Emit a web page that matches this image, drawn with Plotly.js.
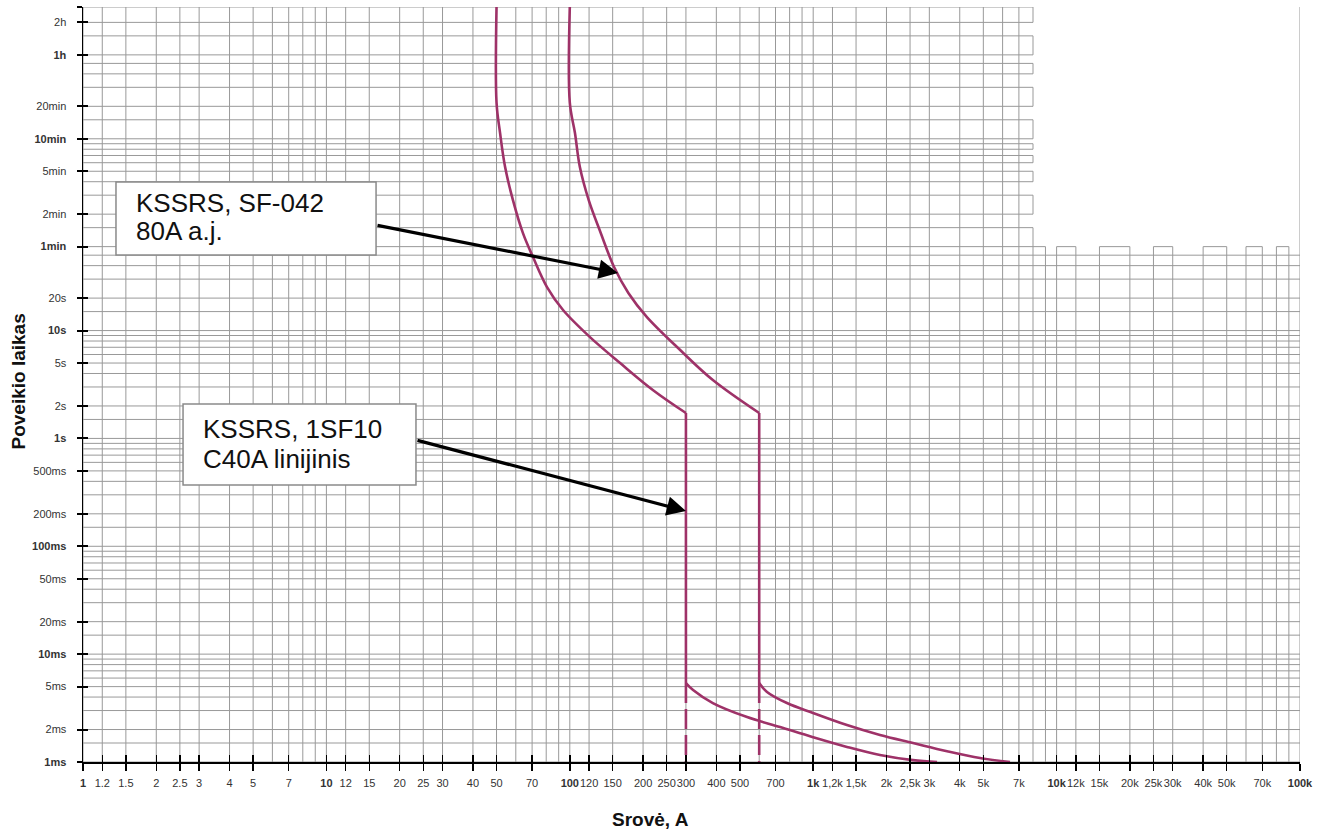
<!DOCTYPE html>
<html>
<head>
<meta charset="utf-8">
<script src="https://cdn.plot.ly/plotly-3.0.1.min.js"></script>
<style>html,body{margin:0;padding:0;background:#fff;}#chart{width:1327px;height:829px;}</style>
</head>
<body>
<div id="chart"></div>
<script>
// ---------- data ----------
// Current (A) ticks and labels
const xTickVals = [1,1.2,1.5,2,2.5,3,4,5,7,10,12,15,20,25,30,40,50,70,100,120,150,200,250,300,400,500,700,1000,1200,1500,2000,2500,3000,4000,5000,7000,10000,12000,15000,20000,25000,30000,40000,50000,70000,100000];
const xTickText = ['<b>1</b>','1.2','1.5','2','2.5','3','4','5','7','<b>10</b>','12','15','20','25','30','40','50','70','<b>100</b>','120','150','200','250','300','400','500','700','<b>1k</b>','1,2k','1,5k','2k','2,5k','3k','4k','5k','7k','<b>10k</b>','12k','15k','20k','25k','30k','40k','50k','70k','<b>100k</b>'];
// Time (s) ticks and labels
const yTickVals = [0.001,0.002,0.005,0.01,0.02,0.05,0.1,0.2,0.5,1,2,5,10,20,60,120,300,600,1200,3600,7200,10000];
const yTickText = ['<b>1ms</b>','2ms','5ms','<b>10ms</b>','20ms','50ms','<b>100ms</b>','200ms','500ms','<b>1s</b>','2s','5s','<b>10s</b>','20s','<b>1min</b>','2min','5min','<b>10min</b>','20min','<b>1h</b>','2h',''];
// grid values
const xGridVals = [1,1.2,1.5,2,2.5,3,4,5,6,7,8,9,10,12,15,20,25,30,40,50,60,70,80,90,100,120,150,200,250,300,400,500,600,700,800,900,1000,1200,1500,2000,2500,3000,4000,5000,6000,7000,8000,9000,10000,12000,15000,20000,25000,30000,40000,50000,60000,70000,80000,90000,100000];
const yGridVals = [0.001,0.0015,0.002,0.003,0.004,0.005,0.006,0.007,0.008,0.009,0.01,0.015,0.02,0.03,0.04,0.05,0.06,0.07,0.08,0.09,0.1,0.15,0.2,0.3,0.4,0.5,0.6,0.7,0.8,0.9,1,1.5,2,3,4,5,6,7,8,9,10,15,20,30,40,50,60,90,120,180,240,300,360,420,480,540,600,900,1200,1800,2400,3000,3600,5400,7200,10000];
const gridSplitX = 8000;   // upper grid stops at this current
const gridSplitT = 60;     // right grid stops at this time

// KSSRS, 1SF10 C40A linijinis
const c40UpperI = [50, 50, 51.7, 54.2, 58.4, 64.2, 70.6, 80.6, 93.8, 121, 161, 220, 300];
const c40UpperT = [10000, 1300, 680, 330, 162, 80, 48, 25.3, 15.5, 8.7, 5.0, 2.8, 1.72];
const c40LowerI = [300, 321, 387, 535, 731, 998, 1376, 1881, 2570, 3228];
const c40LowerT = [0.0054, 0.00466, 0.00352, 0.00261, 0.00211, 0.0017, 0.00138, 0.00116, 0.00104, 0.001];
// KSSRS, SF-042 80A a.j.
const sf80UpperI = [100, 100, 105, 110, 119.6, 134, 152, 174, 207, 284, 387, 600];
const sf80UpperT = [10000, 1300, 679, 328, 162, 80.3, 38.8, 22.3, 13.4, 6.6, 3.48, 1.72];
const sf80LowerI = [600, 646, 780, 998, 1376, 1881, 2570, 3548, 4845, 6436];
const sf80LowerT = [0.0054, 0.00446, 0.00352, 0.00285, 0.0022, 0.00178, 0.0015, 0.00126, 0.00109, 0.001];

// ---------- build ----------
const xMin = 1, xMax = 100000, tMin = 0.001, tMax = 10000;
const gx = [], gy = [];
function seg(x0, y0, x1, y1) { gx.push(x0, x1, null); gy.push(y0, y1, null); }
yGridVals.forEach(v => seg(xMin, v, v < gridSplitT ? xMax : gridSplitX, v));
xGridVals.forEach(v => {
  if (v < gridSplitX || v === xMax) seg(v, tMin, v, tMax);
  else seg(v, tMin, v, gridSplitT);
});
const upperY = yGridVals.filter(v => v >= gridSplitT).sort((a, b) => b - a);
for (let i = 0; i + 1 < upperY.length; i += 2) seg(gridSplitX, upperY[i], gridSplitX, upperY[i + 1]);
const rightX = xGridVals.filter(v => v >= gridSplitX && v < xMax);
for (let i = 0; i + 1 < rightX.length; i += 2) seg(rightX[i], gridSplitT, rightX[i + 1], gridSplitT);

const curveColor = '#9e3268';
const traces = [
  {x: gx, y: gy, mode: 'lines', line: {color: '#999999', width: 1}, hoverinfo: 'skip'}
];
function addDevice(uI, uT, lI, lT) {
  traces.push({x: uI, y: uT, mode: 'lines', line: {color: curveColor, width: 2.6, shape: 'spline', smoothing: 1}});
  traces.push({x: [uI[uI.length - 1], lI[0]], y: [uT[uT.length - 1], lT[0]], mode: 'lines', line: {color: curveColor, width: 2.6}});
  traces.push({x: lI, y: lT, mode: 'lines', line: {color: curveColor, width: 2.6, shape: 'spline', smoothing: 1}});
  traces.push({x: [lI[0], lI[0]], y: [lT[0], tMin], mode: 'lines', line: {color: curveColor, width: 2.6, dash: '20px,6px'}});
}
addDevice(c40UpperI, c40UpperT, c40LowerI, c40LowerT);
addDevice(sf80UpperI, sf80UpperT, sf80LowerI, sf80LowerT);
// dummy trace for the overlay axes (inside tick marks)
traces.push({x: [10], y: [1], xaxis: 'x2', yaxis: 'y2', mode: 'markers', marker: {opacity: 0}, hoverinfo: 'skip'});

const font = '"Liberation Sans", Arial, sans-serif';
const boxLine = {color: '#8a8a8a', width: 1.5};
const labelFont = {family: font, size: 26, color: '#111'};

const layout = {
  width: 1327, height: 829,
  margin: {l: 83, r: 27, t: 7, b: 67, pad: 0},
  paper_bgcolor: '#fff', plot_bgcolor: '#fff',
  showlegend: false, hovermode: false,
  font: {family: font, size: 11, color: '#333'},
  xaxis: {type: 'log', range: [0, 5], showgrid: false, zeroline: false, showline: true, linecolor: '#000', linewidth: 1.5,
          ticks: 'outside', ticklen: 7, tickwidth: 1.5, tickcolor: '#000', tickmode: 'array', tickvals: xTickVals, ticktext: xTickText,
          tickangle: 0, ticklabelstandoff: 3, tickfont: {family: font, size: 11, color: '#333'}},
  yaxis: {type: 'log', range: [-3, 4], showgrid: false, zeroline: false, showline: true, linecolor: '#000', linewidth: 1.5,
          ticks: 'outside', ticklen: 5, tickwidth: 2, tickcolor: '#000', tickmode: 'array', tickvals: yTickVals, ticktext: yTickText,
          ticklabelstandoff: 8, tickfont: {family: font, size: 11, color: '#333'}},
  xaxis2: {type: 'log', range: [0, 5], overlaying: 'x', anchor: 'y2', side: 'bottom', showgrid: false, zeroline: false, showline: false,
           ticks: 'inside', ticklen: 7, tickwidth: 1.5, tickcolor: '#000', tickmode: 'array', tickvals: xTickVals, showticklabels: false},
  yaxis2: {type: 'log', range: [-3, 4], overlaying: 'y', anchor: 'x2', side: 'left', showgrid: false, zeroline: false, showline: false,
           ticks: 'inside', ticklen: 5, tickwidth: 2, tickcolor: '#000', tickmode: 'array', tickvals: yTickVals, showticklabels: false},
  shapes: [
    {type: 'rect', xref: 'paper', yref: 'paper', x0: 0.0271, x1: 0.2408, y0: 0.6715, y1: 0.7682, fillcolor: '#fff', line: boxLine, layer: 'above'},
    {type: 'rect', xref: 'paper', yref: 'paper', x0: 0.0822, x1: 0.2736, y0: 0.3669, y1: 0.4742, fillcolor: '#fff', line: boxLine, layer: 'above'}
  ],
  annotations: [
    {text: 'KSSRS, SF-042', xref: 'paper', yref: 'paper', x: 0.0419, y: 0.7404, xanchor: 'left', yanchor: 'middle', showarrow: false, font: labelFont},
    {text: '80A a.j.', xref: 'paper', yref: 'paper', x: 0.0419, y: 0.7033, xanchor: 'left', yanchor: 'middle', showarrow: false, font: labelFont},
    {text: 'KSSRS, 1SF10', xref: 'paper', yref: 'paper', x: 0.0969, y: 0.4411, xanchor: 'left', yanchor: 'middle', showarrow: false, font: labelFont},
    {text: 'C40A linijinis', xref: 'paper', yref: 'paper', x: 0.0969, y: 0.4013, xanchor: 'left', yanchor: 'middle', showarrow: false, font: labelFont},
    {text: '', xref: 'x', yref: 'y', x: 2.198, y: 1.534, axref: 'x', ayref: 'y', ax: 1.2038, ay: 1.9787,
     showarrow: true, arrowhead: 2, arrowsize: 1.2, arrowwidth: 3.2, arrowcolor: '#000', standoff: 0},
    {text: '', xref: 'x', yref: 'y', x: 2.4774, y: -0.673, axref: 'x', ayref: 'y', ax: 1.368, ay: -0.0147,
     showarrow: true, arrowhead: 2, arrowsize: 1.2, arrowwidth: 3.2, arrowcolor: '#000', standoff: 0},
    {text: '<b>Srovė, A</b>', xref: 'paper', yref: 'paper', x: 0.4667, y: -0.0768, xanchor: 'center', yanchor: 'middle', showarrow: false,
     font: {family: font, size: 19, color: '#111'}},
    {text: '<b>Poveikio laikas</b>', xref: 'paper', yref: 'paper', x: -0.0534, y: 0.504, xanchor: 'center', yanchor: 'middle', showarrow: false,
     textangle: -90, font: {family: font, size: 19, color: '#111'}}
  ]
};

Plotly.newPlot('chart', traces, layout, {staticPlot: true, displayModeBar: false});
</script>
</body>
</html>
